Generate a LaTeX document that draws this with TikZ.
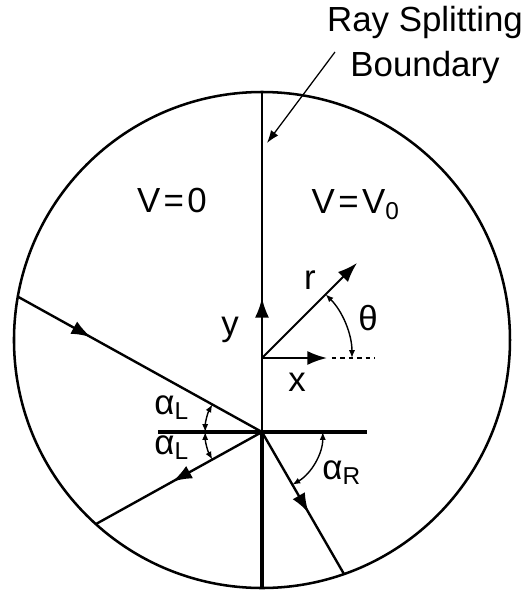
\documentclass[tikz,border=0pt]{standalone}
\usepackage{fontspec}
\setmainfont{Liberation Sans}
\usetikzlibrary{arrows.meta,decorations.markings}

\begin{document}
\begin{tikzpicture}[line join=round,
    ray/.style={line width=0.85pt, postaction={decorate},
      decoration={markings, mark=at position #1 with {\arrow{Latex[length=7pt,width=5pt]}}}},
    axis/.style={line width=0.7pt, -{Latex[length=7pt,width=5pt]}},
    angarc/.style={line width=0.5pt, {Latex[length=2.8pt,width=2.2pt]}-{Latex[length=2.8pt,width=2.2pt]}},
    lbl/.style={font=\fontsize{12.4pt}{16pt}\selectfont, inner sep=0pt}]
  \useasboundingbox (-3.275,-3.125) rectangle (3.2625,4.25);
  % points
  \coordinate (c) at (0,0);
  \coordinate (o) at (0,-0.225);
  \coordinate (h) at (0,-1.15);
  \coordinate (top) at (0,3.1);
  \coordinate (bot) at (0,-3.1);
  \coordinate (hl) at (-1.3,-1.15);
  \coordinate (hr) at (1.3125,-1.15);
  \path (h) ++(151:3.49) coordinate (in);
  \path (h) ++(209:2.375) coordinate (refl);
  \path (h) ++(-60:2.05) coordinate (trans);
  \coordinate (ytip) at (0,0.525);
  \coordinate (xtip) at (0.8125,-0.225);
  \coordinate (dashl) at (0.875,-0.225);
  \coordinate (dashr) at (1.4125,-0.225);
  \path (o) ++(45:1.68) coordinate (rtip);
  \coordinate (leadstart) at (0.9125,3.6);
  \coordinate (leadend) at (0.0625,2.4625);

  % billiard and boundary
  \draw[line width=0.9pt] (c) circle (3.1);
  \draw[line width=0.7pt] (top) -- (h);
  \draw[line width=1.1pt] (h) -- (bot);
  \draw[line width=1.1pt] (hl) -- (hr);

  % rays
  \draw[ray=0.3] (in) -- (h);
  \draw[ray=0.54] (h) -- (refl);
  \draw[ray=0.57] (h) -- (trans);

  % axes
  \draw[axis] (o) -- (ytip);
  \draw[axis] (o) -- (xtip);
  \draw[axis] (o) -- (rtip);
  \draw[line width=0.6pt, dash pattern=on 1.6pt off 1.4pt] (dashl) -- (dashr);

  % angles
  \draw[angarc] ([shift={(0:1.125)}]o) arc[start angle=0, end angle=45, radius=1.125];
  \draw[angarc] ([shift={(151:0.71)}]h) arc[start angle=151, end angle=180, radius=0.71];
  \draw[angarc] ([shift={(180:0.71)}]h) arc[start angle=180, end angle=209, radius=0.71];
  \draw[angarc] ([shift={(0:0.76)}]h) arc[start angle=0, end angle=-60, radius=0.76];

  % labels
  \node[lbl] (vzero) at (-1.125,1.75) {V\kern1.2pt=\kern1.2pt0};
  \node[lbl] (vnull) at (1.175,1.69) {V\kern1.2pt=\kern1.2ptV\textsubscript{0}};
  \node[lbl, align=center] (rsb) at (2.0375,3.6875) {Ray Splitting\\Boundary};
  \node[lbl] (ylab) at (-0.4,0.13) {y};
  \node[lbl] (xlab) at (0.4375,-0.525) {x};
  \node[lbl] (rlab) at (0.6,0.75) {r};
  \node[lbl] (thlab) at (1.325,0.275) {θ};
  \node[lbl] (alup) at (-1.125,-0.85) {α\textsubscript{L}};
  \node[lbl] (aldn) at (-1.125,-1.34) {α\textsubscript{L}};
  \node[lbl] (ar) at (1.0,-1.66) {α\textsubscript{R}};

  \draw[line width=0.45pt, -{Latex[length=4.5pt,width=3.2pt]}] (leadstart) -- (leadend);
\end{tikzpicture}
\end{document}
